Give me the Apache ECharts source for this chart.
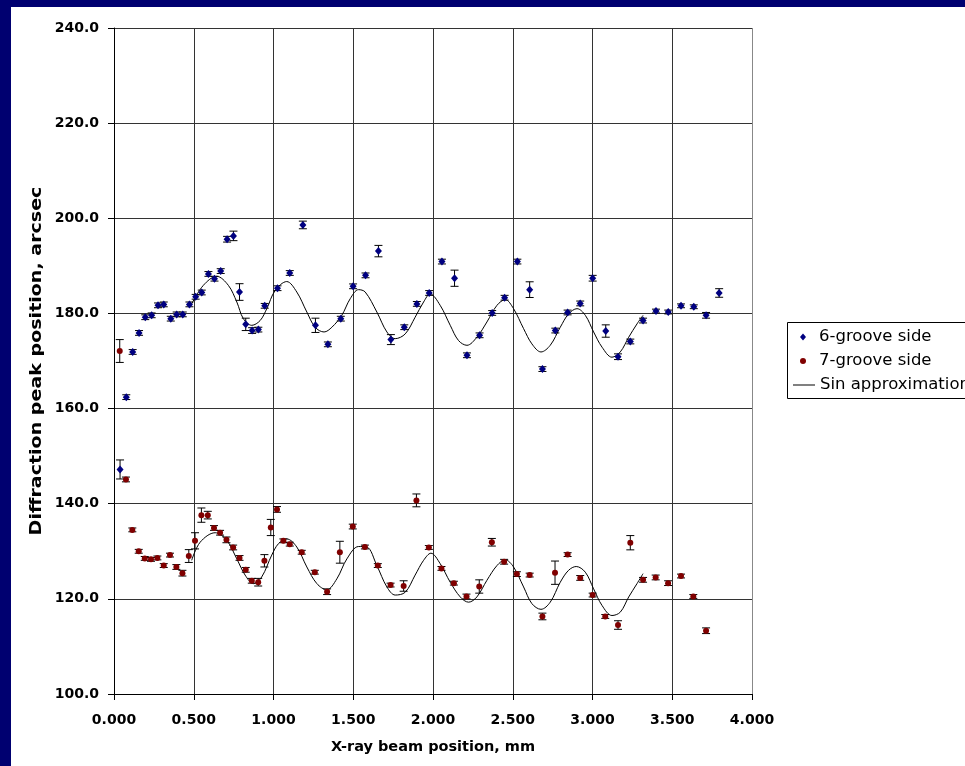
<!DOCTYPE html>
<html>
<head>
<meta charset="utf-8">
<script src="https://cdn.jsdelivr.net/npm/echarts@6/dist/echarts.min.js"></script>
<style>
  html, body { margin: 0; padding: 0; }
  body { width: 965px; height: 766px; background: #000070; position: relative; overflow: hidden; }
  #paper { position: absolute; left: 11px; top: 7px; right: 0; bottom: 0; background: #ffffff; }
  #chart { position: absolute; left: 0; top: 0; width: 965px; height: 766px; }
</style>
</head>
<body>
<div id="paper"></div>
<div id="chart"></div>
<script>
// ---- data ----
const xTicks = [0, 0.5, 1, 1.5, 2, 2.5, 3, 3.5, 4];
const yTicks = [100, 120, 140, 160, 180, 200, 220, 240];
const xTitle = 'X-ray beam position, mm';
const yTitle = 'Diffraction peak position, arcsec';

// 6-groove side
const sixX = [0.038,0.077,0.117,0.157,0.196,0.236,0.276,0.312,0.356,0.393,0.431,0.473,0.512,0.550,0.592,0.630,0.669,0.709,0.749,0.787,0.826,0.866,0.905,0.945,1.025,1.102,1.184,1.263,1.341,1.422,1.499,1.577,1.658,1.736,1.820,1.899,1.976,2.056,2.135,2.213,2.292,2.371,2.449,2.529,2.606,2.686,2.767,2.844,2.923,3.001,3.083,3.160,3.237,3.317,3.398,3.475,3.555,3.635,3.712,3.794];
const sixY = [147.2,162.4,171.9,175.9,179.2,179.6,181.7,181.9,178.9,179.8,179.8,181.9,183.5,184.4,188.3,187.3,188.9,195.6,196.3,184.5,177.7,176.4,176.6,181.6,185.3,188.5,198.6,177.5,173.5,178.9,185.7,188.0,193.1,174.5,177.1,182.0,184.3,190.9,187.4,171.2,175.4,180.1,183.3,190.9,185.0,168.3,176.4,180.2,182.1,187.4,176.3,170.9,174.1,178.5,180.5,180.3,181.6,181.4,179.6,184.3];
const sixErr = [2.0,0.5,0.5,0.5,0.5,0.5,0.5,0.5,0.5,0.5,0.5,0.5,0.5,0.5,0.5,0.5,0.5,0.6,1.0,1.75,1.3,0.6,0.5,0.5,0.5,0.5,0.8,1.5,0.5,0.5,0.5,0.5,1.2,1.05,0.5,0.5,0.5,0.5,1.7,0.5,0.5,0.5,0.5,0.5,1.65,0.5,0.5,0.5,0.5,0.6,1.3,0.6,0.5,0.5,0.4,0.4,0.4,0.4,0.6,0.9];

// 7-groove side
const sevenX = [0.036,0.075,0.115,0.155,0.193,0.232,0.272,0.312,0.351,0.391,0.429,0.469,0.508,0.548,0.588,0.627,0.665,0.705,0.747,0.787,0.826,0.864,0.904,0.943,0.983,1.022,1.062,1.102,1.177,1.259,1.336,1.416,1.497,1.573,1.654,1.734,1.816,1.896,1.974,2.053,2.131,2.210,2.290,2.369,2.446,2.526,2.606,2.686,2.765,2.844,2.923,3.001,3.080,3.160,3.237,3.317,3.396,3.474,3.555,3.632,3.712];
const sevenY = [172.1,145.1,134.5,130.0,128.5,128.3,128.6,127.0,129.2,126.7,125.4,129.0,132.2,137.6,137.6,134.9,133.9,132.4,130.8,128.6,126.1,123.8,123.5,128.0,135.0,138.8,132.2,131.5,129.8,125.6,121.5,129.8,135.2,130.9,127.0,122.9,122.7,140.7,130.8,126.4,123.3,120.5,122.6,131.9,127.8,125.2,125.0,116.3,125.5,129.3,124.4,120.8,116.3,114.5,131.8,124.0,124.5,123.3,124.8,120.5,113.3];
const sevenErr = [2.4,0.5,0.4,0.4,0.4,0.4,0.4,0.4,0.4,0.5,0.6,1.35,1.7,1.5,0.8,0.5,0.5,0.6,0.5,0.5,0.5,0.5,0.8,1.3,1.7,0.6,0.4,0.4,0.4,0.4,0.6,2.3,0.5,0.4,0.4,0.4,1.1,1.35,0.4,0.4,0.4,0.5,1.4,0.8,0.5,0.5,0.4,0.7,2.45,0.4,0.5,0.4,0.4,0.9,1.5,0.5,0.5,0.5,0.4,0.4,0.6];

// Sin approximation (upper)
const sinUpX = [0.487,0.560,0.644,0.717,0.770,0.811,0.864,0.916,0.958,1.010,1.083,1.146,1.209,1.261,1.317,1.366,1.428,1.481,1.533,1.575,1.648,1.711,1.763,1.826,1.888,1.941,1.982,2.045,2.108,2.160,2.213,2.275,2.338,2.401,2.453,2.505,2.568,2.620,2.677,2.735,2.798,2.850,2.903,2.955,3.007,3.060,3.122,3.174,3.227,3.279,3.317];
const sinUpY = [182.0,185.9,187.8,185.9,182.4,178.9,177.5,178.5,181.0,184.8,186.7,184.5,180.3,177.1,176.1,177.1,179.6,183.1,185.0,184.5,180.3,176.1,174.7,175.7,179.2,182.4,184.1,181.7,177.5,174.3,173.3,175.0,178.2,181.7,182.9,181.0,176.8,173.6,171.9,173.3,177.1,179.9,181.0,179.6,176.1,172.9,170.8,171.9,175.0,177.8,179.6];
// Sin approximation (lower)
const sinLoX = [0.487,0.540,0.634,0.707,0.770,0.822,0.874,0.926,0.989,1.031,1.083,1.146,1.209,1.272,1.334,1.397,1.460,1.533,1.585,1.648,1.711,1.763,1.826,1.888,1.941,1.987,2.045,2.108,2.171,2.223,2.275,2.338,2.401,2.453,2.505,2.568,2.620,2.677,2.735,2.798,2.850,2.898,2.955,3.007,3.060,3.122,3.174,3.227,3.279,3.317];
const sinLoY = [128.1,131.9,133.9,132.3,128.4,125.0,123.2,124.6,129.2,131.6,132.6,130.9,126.7,123.2,121.9,124.2,128.4,131.0,130.9,127.0,122.5,120.8,121.4,125.0,128.1,129.6,127.4,123.5,120.4,119.3,120.4,123.9,127.0,128.2,126.7,122.5,119.0,117.8,119.3,123.5,126.0,126.8,125.6,122.1,118.6,116.5,117.2,120.4,123.2,125.3];

// ---- build ----
const zip2 = (a, b) => a.map((v, i) => [v, b[i]]);
const zip3 = (a, b, c) => a.map((v, i) => [v, b[i], c[i]]);

function renderErr(params, api) {
  const x = api.value(0), y = api.value(1), e = api.value(2);
  const t = api.coord([x, y + e]);
  const b = api.coord([x, y - e]);
  const hw = 4;
  const st = { stroke: '#000000', lineWidth: 1 };
  return {
    type: 'group',
    children: [
      { type: 'line', shape: { x1: t[0], y1: t[1], x2: b[0], y2: b[1] }, style: st },
      { type: 'line', shape: { x1: t[0] - hw, y1: t[1], x2: t[0] + hw, y2: t[1] }, style: st },
      { type: 'line', shape: { x1: b[0] - hw, y1: b[1], x2: b[0] + hw, y2: b[1] }, style: st }
    ]
  };
}

const FONT = 'DejaVu Sans';
const legendText = { fontFamily: FONT, fontSize: 16.5, color: '#000000', lineHeight: 24 };
const chart = echarts.init(document.getElementById('chart'), null, { renderer: 'canvas' });
chart.setOption({
  backgroundColor: 'transparent',
  animation: false,
  grid: { left: 114, right: 213, top: 28, bottom: 72, containLabel: false },
  graphic: [
    {
      type: 'rect', z: 1, silent: true,
      shape: { x: 787.5, y: 322.5, width: 210, height: 76 },
      style: { fill: '#ffffff', stroke: '#000000', lineWidth: 1 }
    },
    {
      type: 'text', z: 5, silent: true,
      x: 37, y: 361, rotation: Math.PI / 2, scaleX: 1.27, scaleY: 1,
      style: {
        text: yTitle, font: 'bold 15px "DejaVu Sans"', fill: '#000000',
        align: 'center', verticalAlign: 'middle', textAlign: 'center', textVerticalAlign: 'middle'
      }
    }
  ],
  legend: [
    {
      orient: 'vertical',
      left: 800,
      top: 325,
      padding: 0,
      itemWidth: 6,
      itemHeight: 7,
      itemGap: 0,
      selectedMode: false,
      textStyle: Object.assign({ padding: [0, 0, 0, 8] }, legendText),
      data: ['6-groove side', '7-groove side']
    },
    {
      orient: 'vertical',
      left: 793,
      top: 373,
      padding: 0,
      itemWidth: 22,
      itemHeight: 1,
      itemGap: 0,
      selectedMode: false,
      textStyle: legendText,
      data: [{ name: 'Sin approximation', icon: 'rect' }]
    }
  ],
  xAxis: {
    type: 'value',
    min: xTicks[0],
    max: xTicks[xTicks.length - 1],
    interval: xTicks[1] - xTicks[0],
    name: xTitle,
    nameLocation: 'middle',
    nameGap: 46,
    nameTextStyle: { fontFamily: FONT, fontSize: 14.5, fontWeight: 'bold', color: '#000000' },
    axisLine: { show: true, onZero: false, lineStyle: { color: '#000000', width: 1 } },
    axisTick: { show: true, inside: false, length: 6, lineStyle: { color: '#000000' } },
    axisLabel: { margin: 19, fontFamily: FONT, fontSize: 14, fontWeight: 'bold', color: '#000000',
                 formatter: v => v.toFixed(3) },
    splitLine: { show: true, lineStyle: { color: ['#333333','#333333','#333333','#333333','#333333','#333333','#333333','#333333','#888888'], width: 1 } }
  },
  yAxis: {
    type: 'value',
    min: yTicks[0],
    max: yTicks[yTicks.length - 1],
    interval: yTicks[1] - yTicks[0],
    axisLine: { show: true, onZero: false, lineStyle: { color: '#000000', width: 1 } },
    axisTick: { show: true, inside: false, length: 6, lineStyle: { color: '#000000' } },
    axisLabel: { margin: 15, fontFamily: FONT, fontSize: 14, fontWeight: 'bold', color: '#000000',
                 formatter: v => v.toFixed(1) },
    splitLine: { show: true, lineStyle: { color: '#333333', width: 1 } }
  },
  series: [
    {
      name: 'err6', type: 'custom', renderItem: renderErr,
      data: zip3(sixX, sixY, sixErr), encode: { x: 0, y: 1 }, z: 2, silent: true
    },
    {
      name: 'err7', type: 'custom', renderItem: renderErr,
      data: zip3(sevenX, sevenY, sevenErr), encode: { x: 0, y: 1 }, z: 2, silent: true
    },
    {
      name: 'Sin approximation', type: 'line', data: zip2(sinUpX, sinUpY),
      smooth: 0.35, symbol: 'none', showSymbol: false, lineStyle: { color: '#000000', width: 1 },
      itemStyle: { color: '#000000' }, z: 3
    },
    {
      name: 'Sin approximation', type: 'line', data: zip2(sinLoX, sinLoY),
      smooth: 0.35, symbol: 'none', showSymbol: false, lineStyle: { color: '#000000', width: 1 },
      itemStyle: { color: '#000000' }, z: 3
    },
    {
      name: '6-groove side', type: 'scatter', data: zip2(sixX, sixY),
      symbol: 'diamond', symbolSize: [7, 8], itemStyle: { color: '#000080', opacity: 1 }, z: 4
    },
    {
      name: '7-groove side', type: 'scatter', data: zip2(sevenX, sevenY),
      symbol: 'circle', symbolSize: 6, itemStyle: { color: '#800000', opacity: 1 }, z: 4
    }
  ]
});
</script>
</body>
</html>
